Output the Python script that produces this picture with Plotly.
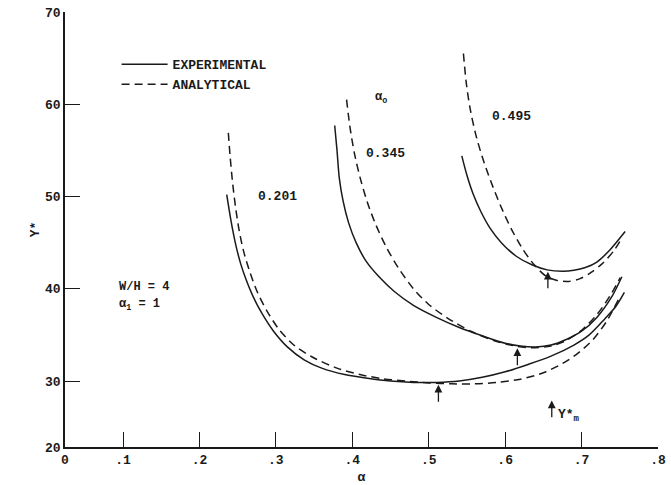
import plotly.graph_objects as go

# ---- data (alpha, Y*) ----
exp_201_a = [0.2357, 0.239, 0.243, 0.248, 0.254, 0.261, 0.270, 0.282, 0.297, 0.315, 0.337, 0.36, 0.39, 0.42, 0.45, 0.48, 0.51, 0.54, 0.57, 0.60, 0.63, 0.66, 0.69, 0.71, 0.73, 0.745, 0.756]
exp_201_y = [50.2, 48.5, 46.6, 44.6, 42.7, 41.0, 39.2, 37.3, 35.4, 33.7, 32.3, 31.4, 30.7, 30.3, 30.0, 29.85, 29.85, 30.0, 30.4, 31.0, 31.8, 32.7, 33.9, 35.0, 36.7, 38.1, 39.6]
ana_201_a = [0.2378, 0.240, 0.243, 0.247, 0.252, 0.258, 0.266, 0.276, 0.289, 0.305, 0.325, 0.35, 0.38, 0.41, 0.44, 0.47, 0.50, 0.53, 0.56, 0.59, 0.62, 0.65, 0.675, 0.695, 0.715, 0.733, 0.748]
ana_201_y = [56.9, 54.5, 51.8, 49.0, 46.3, 44.0, 41.8, 39.6, 37.5, 35.5, 33.8, 32.5, 31.4, 30.7, 30.25, 30.0, 29.8, 29.7, 29.7, 29.85, 30.2, 30.9, 31.9, 33.0, 34.5, 36.5, 38.8]

exp_345_a = [0.3770, 0.380, 0.383, 0.388, 0.395, 0.405, 0.418, 0.435, 0.455, 0.48, 0.51, 0.54, 0.57, 0.60, 0.62, 0.64, 0.66, 0.68, 0.70, 0.72, 0.74, 0.7527]
exp_345_y = [57.7, 55.0, 52.0, 49.5, 47.2, 45.0, 43.0, 41.3, 39.7, 38.2, 36.9, 35.8, 34.9, 34.1, 33.8, 33.7, 33.9, 34.5, 35.4, 36.9, 39.2, 41.3]
ana_345_a = [0.3925, 0.397, 0.403, 0.411, 0.420, 0.431, 0.444, 0.46, 0.48, 0.50, 0.525, 0.555, 0.585, 0.61, 0.635, 0.66, 0.68, 0.70, 0.72, 0.737, 0.7505]
ana_345_y = [60.5, 57.5, 54.6, 51.8, 49.3, 46.9, 44.6, 42.3, 40.0, 38.3, 36.8, 35.4, 34.4, 33.85, 33.6, 33.8, 34.4, 35.5, 37.2, 39.2, 41.2]

exp_495_a = [0.5433, 0.550, 0.558, 0.568, 0.580, 0.595, 0.615, 0.635, 0.655, 0.675, 0.69, 0.705, 0.72, 0.737, 0.757]
exp_495_y = [54.4, 52.3, 50.3, 48.4, 46.6, 45.0, 43.5, 42.6, 42.05, 41.9, 42.0, 42.3, 42.9, 44.2, 46.2]
ana_495_a = [0.5454, 0.549, 0.554, 0.561, 0.570, 0.581, 0.594, 0.608, 0.623, 0.638, 0.653, 0.668, 0.683, 0.698, 0.713, 0.728, 0.742, 0.7527]
ana_495_y = [65.5, 62.4, 59.6, 56.9, 54.3, 51.7, 49.0, 46.5, 44.3, 42.6, 41.4, 40.9, 40.8, 41.1, 41.8, 42.8, 44.1, 45.5]

# Y*m arrows (alpha, tail Y, head Y)
ym_a = [0.5127, 0.6160, 0.6559]
ym_tail = [27.6, 31.55, 39.9]
ym_head = [29.6, 33.55, 41.85]

# curve labels
curve_labels = ["0.201", "0.345", "0.495"]
label_a = [0.3016, 0.4430, 0.6080]
label_y = [49.95, 54.7, 58.7]

# axes (the drawn origin corner is labelled 0 / 20)
x_corner, y_corner = 0.0241, 22.85
x_tickvals = [x_corner, 0.1, 0.2, 0.3, 0.4, 0.5, 0.6, 0.7, 0.8]
x_ticktext = ["0", ".1", ".2", ".3", ".4", ".5", ".6", ".7", ".8"]
y_tickvals = [y_corner, 30, 40, 50, 60, 70]
y_ticktext = ["20", "30", "40", "50", "60", "70"]

FONT = "Liberation Mono"
INK = "#1a1a1a"
DASH = "8px,5px"


def fnt(size):
    return dict(family=FONT, size=size, color=INK, weight="bold")


fig = go.Figure()
series = [
    (exp_201_a, exp_201_y, "solid", "EXPERIMENTAL", True),
    (ana_201_a, ana_201_y, DASH, "ANALYTICAL", True),
    (exp_345_a, exp_345_y, "solid", "EXPERIMENTAL", False),
    (ana_345_a, ana_345_y, DASH, "ANALYTICAL", False),
    (exp_495_a, exp_495_y, "solid", "EXPERIMENTAL", False),
    (ana_495_a, ana_495_y, DASH, "ANALYTICAL", False),
]
for xs, ys, dash, name, show in series:
    fig.add_trace(go.Scatter(
        x=xs, y=ys, mode="lines", name=name, showlegend=show,
        line=dict(color=INK, width=1.5, dash=dash, shape="spline", smoothing=0.8),
        hoverinfo="skip",
    ))

annotations = []
for a, t, h in zip(ym_a, ym_tail, ym_head):
    annotations.append(dict(
        x=a, y=h, ax=a, ay=t, xref="x", yref="y", axref="x", ayref="y",
        text="", showarrow=True, arrowhead=2, arrowsize=1.2, arrowwidth=1.3, arrowcolor=INK,
    ))
# legend arrow Y*m
annotations.append(dict(
    x=0.661, y=27.9, ax=0.661, ay=25.9, xref="x", yref="y", axref="x", ayref="y",
    text="", showarrow=True, arrowhead=2, arrowsize=1.2, arrowwidth=1.3, arrowcolor=INK,
))
annotations.append(dict(
    x=0.666, y=26.3, xref="x", yref="y", xanchor="left", yanchor="middle",
    text="Y*<sub>m</sub>", showarrow=False, font=fnt(13),
))
for txt, a, y in zip(curve_labels, label_a, label_y):
    annotations.append(dict(
        x=a, y=y, xref="x", yref="y", text=txt, showarrow=False, font=fnt(13),
    ))
annotations.append(dict(
    x=0.4377, y=60.7, xref="x", yref="y", text="α<sub>o</sub>", showarrow=False, font=fnt(12),
))
annotations.append(dict(
    x=0.0925, y=40.2, xref="x", yref="y", xanchor="left", text="W/H = 4", showarrow=False, font=fnt(12),
))
annotations.append(dict(
    x=0.0925, y=38.2, xref="x", yref="y", xanchor="left", text="α<sub>1</sub> = 1", showarrow=False, font=fnt(12),
))

fig.update_layout(
    width=671, height=485,
    margin=dict(l=65, r=13, t=12, b=38),
    paper_bgcolor="white", plot_bgcolor="white",
    font=fnt(13),
    annotations=annotations,
    legend=dict(
        x=0.087, y=0.914, xanchor="left", yanchor="top",
        bgcolor="rgba(0,0,0,0)", borderwidth=0,
        font=fnt(13),
        tracegroupgap=0, itemwidth=46,
    ),
    showlegend=True,
)
fig.update_xaxes(
    range=[x_corner, 0.8], tickmode="array", tickvals=x_tickvals, ticktext=x_ticktext,
    ticks="inside", ticklen=15, tickwidth=1.3, tickcolor=INK, automargin=False,
    showline=True, linecolor=INK, linewidth=1.6, showgrid=False, zeroline=False,
    tickfont=fnt(13),
    title=dict(text="α", font=fnt(13), standoff=6),
)
fig.update_yaxes(
    range=[y_corner, 70], tickmode="array", tickvals=y_tickvals, ticktext=y_ticktext,
    ticks="inside", ticklen=15, tickwidth=1.3, tickcolor=INK, automargin=False,
    showline=True, linecolor=INK, linewidth=1.6, showgrid=False, zeroline=False,
    tickfont=fnt(13),
    title=dict(text="Y*", font=fnt(13), standoff=2),
)

fig.write_html(
    "out.html",
    config={"displayModeBar": False},
    post_script="document.body.style.margin='0';document.body.style.overflow='hidden';",
)
